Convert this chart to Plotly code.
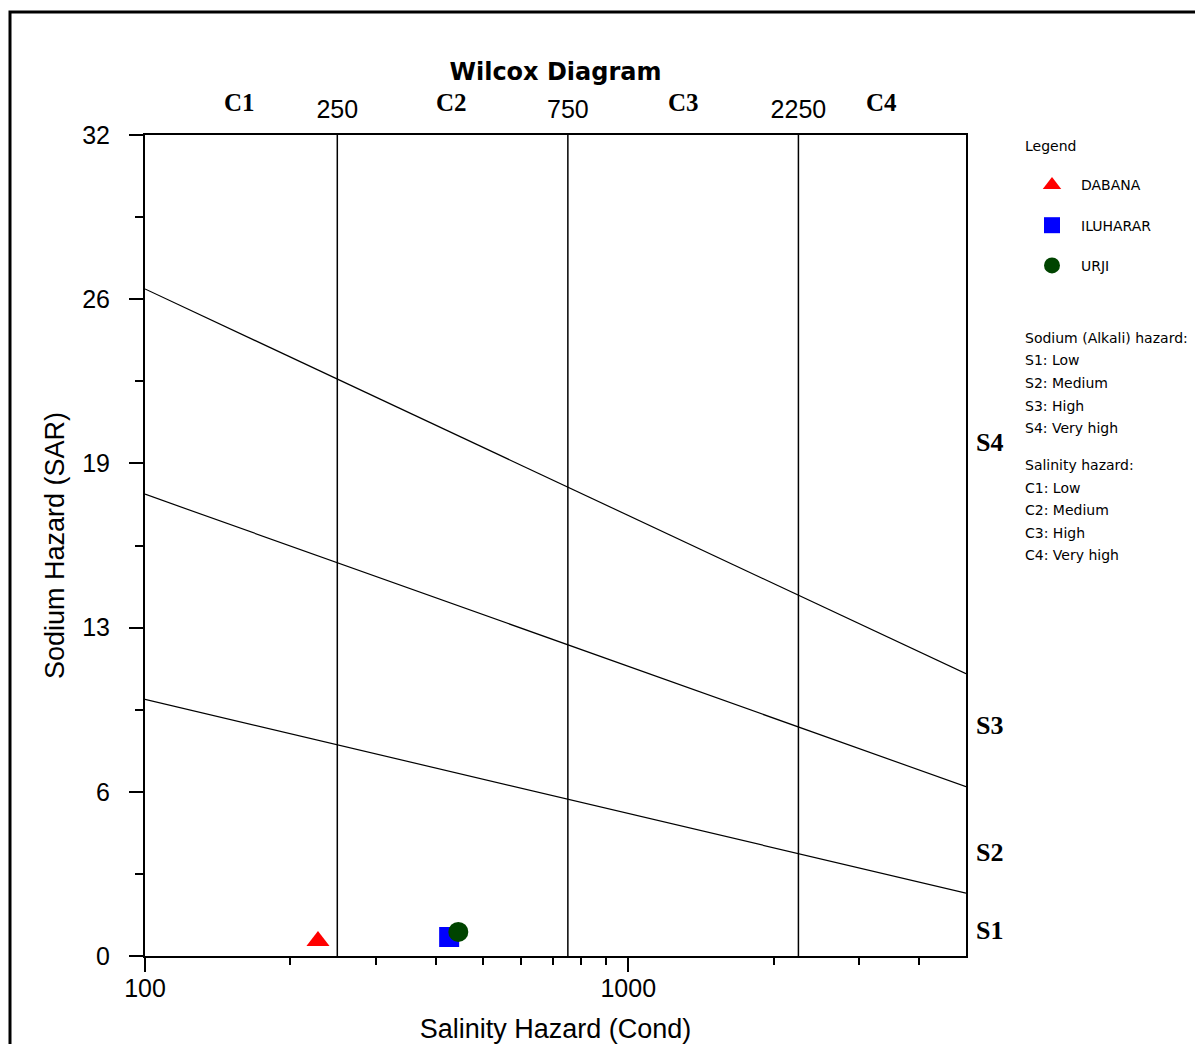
import math
import plotly.graph_objects as go

# ---------------- data ----------------
ec_boundaries = [250, 750, 2250]
ec_boundary_labels = ["250", "750", "2250"]
salinity_classes = ["C1", "C2", "C3", "C4"]
salinity_class_x = [157, 430, 1300, 3350]
sodium_classes = ["S1", "S2", "S3", "S4"]
sodium_class_y = [1.0, 4.05, 9.0, 20.0]

line_ec = [100, 5000]
line_s1_s2 = [10.0, 2.45]
line_s2_s3 = [18.0, 6.6]
line_s3_s4 = [26.0, 11.0]

samples = ["DABANA", "ILUHARAR", "URJI"]
sample_ec = [228, 426, 445]
sample_sar = [0.58, 0.74, 0.94]
sample_symbols = ["triangle-up", "square", "circle"]
sample_colors = ["#ff0000", "#0000ff", "#004400"]

y_tickvals = [0, 6.4, 12.8, 19.2, 25.6, 32]
y_ticktext = ["0", "6", "13", "19", "26", "32"]
y_minor = [3.2, 9.6, 16.0, 22.4, 28.8]
x_tickvals = [100, 1000]
x_ticktext = ["100", "1000"]
x_minor = [200, 300, 400, 500, 600, 700, 800, 900, 2000, 3000, 4000]

notes_sodium = ["Sodium (Alkali) hazard:", "S1: Low", "S2: Medium", "S3: High", "S4: Very high"]
notes_salinity = ["Salinity hazard:", "C1: Low", "C2: Medium", "C3: High", "C4: Very high"]

# ---------------- figure ----------------
W, H = 1195, 1044
ML, MR, MT, MB = 145, 229, 135, 88
PW, PH = W - ML - MR, H - MT - MB

fig = go.Figure()

# classification lines
for ln in [line_s1_s2, line_s2_s3, line_s3_s4]:
    fig.add_trace(go.Scatter(x=line_ec, y=ln, mode="lines",
                             line=dict(color="black", width=1.2),
                             showlegend=False, hoverinfo="skip"))
for b in ec_boundaries:
    fig.add_trace(go.Scatter(x=[b, b], y=[0, 32], mode="lines",
                             line=dict(color="black", width=1.5),
                             showlegend=False, hoverinfo="skip"))

# samples
for i, name in enumerate(samples):
    fig.add_trace(go.Scatter(x=[sample_ec[i]], y=[sample_sar[i]], mode="markers",
                             name=name, legendgroup=name,
                             marker=dict(symbol=sample_symbols[i], color=sample_colors[i],
                                         size=20, line=dict(width=0))))

# top axis labels (overlay axis)
fig.add_trace(go.Scatter(x=ec_boundaries, y=[None] * 3, xaxis="x2", mode="markers",
                         showlegend=False, hoverinfo="skip"))

font_ax = dict(family="Arial, Liberation Sans, sans-serif", size=25, color="black")
font_title_ax = dict(family="Arial, Liberation Sans, sans-serif", size=27, color="black")
small_font = dict(family="DejaVu Sans, Verdana, sans-serif", size=14, color="black")

fig.update_layout(
    width=W, height=H,
    margin=dict(l=ML, r=MR, t=MT, b=MB, autoexpand=False),
    paper_bgcolor="white", plot_bgcolor="white",
    font=font_ax,
    title=dict(text="<b>Wilcox Diagram</b>", x=0.5, xref="paper", xanchor="center",
               y=1 - 72 / H, yref="container", yanchor="middle",
               font=dict(family="DejaVu Sans, Verdana, sans-serif", size=24, color="black")),
    xaxis=dict(type="log", range=[2, 3.69897], showgrid=False, zeroline=False,
               showline=True, mirror=True, linecolor="black", linewidth=2,
               tickmode="array", tickvals=x_tickvals, ticktext=x_ticktext,
               ticks="outside", ticklen=14, tickwidth=2, tickcolor="black",
               ticklabelstandoff=-5,
               minor=dict(tickmode="array", tickvals=x_minor, ticks="outside",
                          ticklen=7, tickwidth=2, tickcolor="black", showgrid=False),
               title=dict(text="Salinity Hazard (Cond)", standoff=19, font=font_title_ax),
               tickfont=font_ax),
    xaxis2=dict(type="log", range=[2, 3.69897], overlaying="x", side="top",
                showgrid=False, zeroline=False, showline=False,
                tickmode="array", tickvals=ec_boundaries, ticktext=ec_boundary_labels,
                ticks="outside", ticklen=6, tickcolor="rgba(0,0,0,0)",
                tickfont=font_ax),
    yaxis=dict(range=[0, 32], showgrid=False, zeroline=False,
               showline=True, mirror=True, linecolor="black", linewidth=2,
               tickmode="array", tickvals=y_tickvals, ticktext=y_ticktext,
               ticks="outside", ticklen=14, tickwidth=2, tickcolor="black",
               ticklabelstandoff=14,
               minor=dict(tickmode="array", tickvals=y_minor, ticks="outside",
                          ticklen=8, tickwidth=2, tickcolor="black", showgrid=False),
               title=dict(text="Sodium Hazard (SAR)", standoff=10, font=font_title_ax),
               tickfont=font_ax),
    legend=dict(x=(1023 - ML) / PW, y=(956 - 133) / PH, xanchor="left", yanchor="top",
                title=dict(text="Legend<br> ", font=small_font),
                font=small_font, itemwidth=48,
                traceorder="grouped", tracegroupgap=19, bgcolor="rgba(0,0,0,0)"),
    showlegend=True,
)

annotations = []
# salinity class labels above plot
for lab, xv in zip(salinity_classes, salinity_class_x):
    annotations.append(dict(text="<b>" + lab + "</b>", x=math.log10(xv), xref="x",
                            y=(956 - 103) / PH, yref="paper", showarrow=False,
                            xanchor="center", yanchor="middle",
                            font=dict(family="Liberation Serif, Times New Roman, serif",
                                      size=25, color="black")))
# sodium class labels right of plot
for lab, yv in zip(sodium_classes, sodium_class_y):
    annotations.append(dict(text="<b>" + lab + "</b>", x=(974 - ML) / PW, xref="paper",
                            y=yv, yref="y", showarrow=False,
                            xanchor="left", yanchor="middle",
                            font=dict(family="Liberation Serif, Times New Roman, serif",
                                      size=26, color="black")))
# notes
step = 22.5
for group, y0 in [(notes_sodium, 338), (notes_salinity, 465)]:
    for k, txt in enumerate(group):
        ypx = y0 + k * step
        annotations.append(dict(text=txt, x=(1023 - ML) / PW, xref="paper",
                                y=(956 - ypx) / PH, yref="paper", showarrow=False,
                                xanchor="left", yanchor="middle", font=small_font))
fig.update_layout(annotations=annotations)

# outer border
fig.add_shape(type="rect", xref="paper", yref="paper",
              x0=(10 - ML) / PW, x1=2.0, y0=-1.0, y1=(956 - 12) / PH,
              line=dict(color="black", width=3), fillcolor="rgba(0,0,0,0)", layer="above")

fig.write_html("out.html", config={"displayModeBar": False},
               post_script="document.body.style.margin='0';document.body.style.overflow='hidden';")
